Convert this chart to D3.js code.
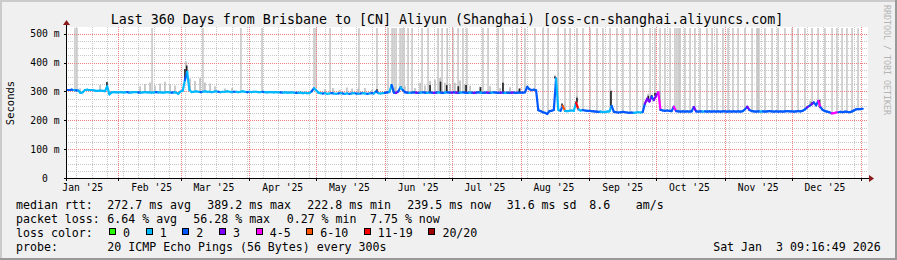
<!DOCTYPE html>
<html>
<head>
<meta charset="utf-8">
<script src="https://cdn.jsdelivr.net/npm/d3@7"></script>
<style>
html, body { margin: 0; padding: 0; background: #f0f0f0; }
svg { display: block; font-family: "DejaVu Sans Mono", monospace; }
text { white-space: pre; }
</style>
</head>
<body>
<svg id="chart" width="897" height="260" xml:space="preserve"></svg>
<script>
// ---- data ----
const title = "Last 360 Days from Brisbane to [CN] Aliyun (Shanghai) [oss-cn-shanghai.aliyuncs.com]";
const spanDays = 360;
const firstDay = 8; // day of year (Jan 1 2025 = 0) of the first median sample

// median rtt in ms, one value per day, one row per month
const medianMs = [
  // Jan
  305, 305, 306, 305, 304, 303, 295, 297, 305, 306, 305, 305, 304, 302, 302, 303, 302, 301, 318, 290, 297, 298, 297,
  // Feb
  297, 298, 297, 297, 298, 296, 297, 298, 298, 297, 296, 297, 298, 297, 297, 296, 297, 298, 297, 297, 296, 297, 298, 297, 296, 297, 296, 292,
  // Mar
  300, 302, 340, 368, 305, 298, 299, 300, 299, 298, 299, 300, 299, 299, 298, 299, 300, 299, 298, 299, 299, 300, 299, 298, 299, 299, 298, 299, 300, 299, 298,
  // Apr
  299, 298, 299, 299, 298, 298, 299, 298, 297, 298, 298, 297, 298, 297, 297, 296, 297, 296, 296, 297, 296, 295, 295, 296, 294, 295, 294, 294, 300, 311,
  // May
  304, 296, 294, 293, 294, 292, 293, 294, 293, 292, 293, 294, 293, 292, 293, 292, 293, 294, 293, 292, 293, 294, 293, 292, 293, 294, 293, 300, 294, 293, 294,
  // Jun
  295, 297, 298, 322, 296, 295, 300, 315, 305, 297, 296, 295, 296, 297, 296, 295, 296, 297, 296, 295, 297, 296, 295, 296, 297, 296, 295, 296, 297, 296,
  // Jul
  296, 297, 296, 295, 296, 297, 296, 295, 296, 296, 295, 296, 297, 296, 295, 296, 296, 295, 296, 297, 296, 295, 296, 296, 295, 296, 295, 296, 296, 295, 296,
  // Aug
  296, 296, 297, 316, 308, 305, 306, 304, 235, 232, 228, 226, 222, 232, 233, 236, 345, 236, 233, 250, 233, 232, 233, 234, 233, 262, 238, 234, 235, 234, 233,
  // Sep
  233, 232, 231, 230, 229, 230, 228, 229, 230, 231, 250, 229, 228, 227, 228, 229, 228, 227, 226, 227, 226, 227, 228, 227, 229, 258, 275, 265, 282, 270,
  // Oct
  285, 298, 236, 234, 233, 234, 233, 232, 247, 232, 231, 230, 231, 230, 231, 230, 231, 246, 231, 230, 231, 230, 231, 230, 231, 230, 231, 230, 231, 230, 231,
  // Nov
  231, 230, 231, 230, 231, 230, 231, 230, 232, 238, 247, 236, 232, 231, 230, 231, 230, 231, 230, 231, 232, 231, 230, 231, 230, 231, 230, 231, 232, 231,
  // Dec
  231, 230, 231, 232, 231, 233, 238, 245, 250, 255, 262, 252, 267, 245, 236, 232, 230, 228, 224, 225, 227, 228, 229, 228, 230, 229, 228, 230, 234, 238, 239,
  // Jan 26
  239, 240
];

// loss class per day (index into lossColors), one string per month
const lossByMonth = [
  "22212111111111111111111",
  "1111211112111111121111112111",
  "1121111112111111121111112111112",
  "111111211111112111111211111121",
  "1112111211212112112121121212111",
  "221223212221223212212232122122",
  "3232122212322122321222321223222",
  "2222222222222222112511111611222",
  "222221111122222222221111233323",
  "3422222242222222232221222222222",
  "222222222232222212222222222222",
  "2222222323224222224442222222222",
  "22"
];

// smoke spikes (day of year, top in ms)
const smokeDays = [13.8, 22.8, 40.8, 43, 45.3, 47.5, 49.8, 52, 54.3, 56.5, 61.5, 63.3, 65.5, 67.8, 70, 72.3, 74.5, 79, 82.2,
  124, 127.6, 130.8, 133.9, 136.2, 138.9, 142, 145.2,
  155.5, 160, 164.5, 166.8, 169, 171.3, 173.5, 175.8, 178, 180.3,
  182.5, 184.8, 187, 189.3, 193.8, 198.3, 202.8, 204.1, 207.3, 211.8,
  227.5, 237.4, 252.7, 269.4, 272.5, 274.8, 342.3, 346.8];
const smokeTop = [310, 322, 318, 326, 331, 320, 328, 334, 325, 321, 404, 345, 336, 347, 331, 328, 318, 310, 312,
  308, 312, 306, 314, 310, 309, 312, 307,
  315, 318, 312, 330, 321, 336, 341, 347, 330, 326,
  330, 338, 325, 320, 316, 318, 312, 332, 315, 312,
  356, 283, 306, 292, 300, 302, 268, 275];

// dark smoke (day of year, top in ms)
const darkDays = [25.9, 61, 61.8, 119.3, 147.4, 154.2, 158.2, 171.3, 176, 178.8, 184, 187.5, 194, 204.1, 211.5,
  227.5, 230.7, 237.4, 252.7, 268.5, 269.5, 271, 272.5, 274, 343, 346.5];
const darkTop = [333, 378, 390, 312, 308, 322, 317, 322, 334, 322, 318, 322, 315, 330, 310,
  352, 258, 278, 302, 275, 285, 288, 295, 299, 262, 270];

// days where some pings went off the top of the scale
const offscaleDays = [11.5, 12.4, 46.2, 69.1, 86.2, 95.7, 119.1, 120, 126.3, 139.3, 147.4,
  152.4, 154.2, 155.1, 156, 157.8, 158.7, 159.6, 161.4, 163.2, 167.7, 170.4, 174.9, 176.7, 179,
  181.6, 183.9, 186.1, 187.9, 195.1, 197.4, 201.9, 204.1, 210.4, 214, 218.5, 222.1, 224.4,
  228.9, 232, 234.3, 237.4, 240.1, 243.3, 246.4, 249.1, 252.3, 255.4, 258.1, 261.3, 264.4, 267.1,
  270.3, 272.5, 274.8, 277, 279.3, 281.5, 282.4, 283.3, 283.8, 286, 288.3, 290.5, 292.8, 295.9, 298.2,
  300.4, 303.1, 305.4, 307.6, 309.9, 313, 316.2, 318.4, 318.9, 319.3, 322, 325.2, 327.9, 331, 334.2,
  336.9, 340, 343.2, 345.9, 349, 352.2, 354.4, 356.7, 358.9, 361.2, 363.9];

const yTicks = [0, 100, 200, 300, 400, 500];
const rttLegend = ["median rtt:", "272.7 ms avg", "389.2 ms max", "222.8 ms min", "239.5 ms now", "31.6 ms sd", "8.6", "am/s"];
const lossLegend = ["packet loss:", "6.64 % avg", "56.28 % max", "0.27 % min", "7.75 % now"];
const lossLabels = ["0", "1", "2", "3", "4-5", "6-10", "11-19", "20/20"];
const lossColors = ["#26ff00", "#00b8ff", "#0059ff", "#7e00ff", "#ff00ff", "#ff5500", "#ff0000", "#a10000"];
const probeText = "20 ICMP Echo Pings (56 Bytes) every 300s";
const stamp = "Sat Jan  3 09:16:49 2026";

// ---- layout ----
const W = 897, H = 260;
const P = { left: 66, right: 866, top: 28, bottom: 178 };
const rttX = [16, 107.3, 207.3, 307.3, 407.3, 506.7, 589.3, 635.7];
const lossX = [16, 107.3, 193.3, 286.7, 370];
const lineY = [208.5, 222.5, 236.5, 250.5];
const cw = 6.97; // legend char width

const DAY = 864e5;
const yearStart = Date.UTC(2025, 0, 1);
const doy = d => new Date(yearStart + d * DAY);
const tEnd = new Date(Date.UTC(2026, 0, 3, 11, 17));
const tStart = new Date(+tEnd - spanDays * DAY);

const x = d3.scaleUtc().domain([tStart, tEnd]).range([P.left, P.right]);
const y = d3.scaleLinear().domain([0, 520]).range([P.bottom, P.top]);
const px = v => Math.round(v) + 0.5;

const lossClass = lossByMonth.join("").split("").map(Number);
const points = medianMs.map((v, i) => ({ day: firstDay + i, v, loss: lossClass[i] ?? 1 }));
const medianAt = d => medianMs[Math.max(0, Math.min(medianMs.length - 1, Math.round(d) - firstDay))];

const svg = d3.select("#chart");

// background + 3d border
svg.append("rect").attr("width", W).attr("height", H).attr("fill", "#f0f0f0");
svg.append("path").attr("d", `M0,${H} V0 H${W}`).attr("fill", "none").attr("stroke", "#cbcbcb").attr("stroke-width", 4);
svg.append("path").attr("d", `M0,${H} H${W} V0`).attr("fill", "none").attr("stroke", "#999999").attr("stroke-width", 4);

// canvas
svg.append("rect").attr("x", P.left).attr("y", P.top - 1).attr("width", P.right - P.left + 2)
  .attr("height", P.bottom - P.top + 1).attr("fill", "#ffffff");

// off-scale smoke lines
svg.append("g").selectAll("line").data(offscaleDays).join("line")
  .attr("x1", d => x(doy(d))).attr("x2", d => x(doy(d)))
  .attr("y1", y(520)).attr("y2", d => y(medianAt(d)))
  .attr("stroke", "#c4c4c4").attr("stroke-width", 1.5);

// grid
const grid = svg.append("g").attr("shape-rendering", "crispEdges").attr("stroke-width", 1).attr("stroke-dasharray", "1,1");
const minorY = d3.range(25, 520, 25).filter(v => v % 100);
const majorY = yTicks.filter(v => v > 0);
grid.selectAll(".gy").data(minorY).join("line")
  .attr("x1", P.left).attr("x2", P.right + 2).attr("y1", v => px(y(v))).attr("y2", v => px(y(v)))
  .attr("stroke", "#c8c8c8");
grid.selectAll(".gx").data(d3.utcMonday.range(tStart, tEnd)).join("line")
  .attr("x1", t => px(x(t))).attr("x2", t => px(x(t))).attr("y1", P.top - 1).attr("y2", P.bottom)
  .attr("stroke", "#c8c8c8");
grid.selectAll(".my").data(majorY).join("line")
  .attr("x1", P.left).attr("x2", P.right + 2).attr("y1", v => px(y(v))).attr("y2", v => px(y(v)))
  .attr("stroke", "#f08080");
grid.selectAll(".mx").data(d3.utcMonth.range(tStart, tEnd)).join("line")
  .attr("x1", t => px(x(t))).attr("x2", t => px(x(t))).attr("y1", P.top - 1).attr("y2", P.bottom)
  .attr("stroke", "#f08080");

// smoke
svg.append("g").selectAll("line").data(smokeDays).join("line")
  .attr("x1", (d) => x(doy(d))).attr("x2", (d) => x(doy(d)))
  .attr("y1", (d, i) => y(smokeTop[i])).attr("y2", d => y(medianAt(d)))
  .attr("stroke", "#b4b4b4").attr("stroke-width", 1.4);
svg.append("g").selectAll("line").data(darkDays).join("line")
  .attr("x1", (d) => x(doy(d))).attr("x2", (d) => x(doy(d)))
  .attr("y1", (d, i) => y(darkTop[i])).attr("y2", d => y(medianAt(d)))
  .attr("stroke", "#202020").attr("stroke-width", 1.6);

// median line coloured by loss
svg.append("g").selectAll("line").data(points.slice(0, -1)).join("line")
  .attr("x1", p => x(doy(p.day))).attr("y1", p => y(p.v))
  .attr("x2", (p, i) => x(doy(points[i + 1].day))).attr("y2", (p, i) => y(points[i + 1].v))
  .attr("stroke", p => lossColors[p.loss]).attr("stroke-width", 2.2).attr("stroke-linecap", "round");

// axes
const axes = svg.append("g").attr("shape-rendering", "crispEdges").attr("stroke", "#000");
axes.append("line").attr("x1", P.left - 2).attr("x2", P.right + 4).attr("y1", px(y(0))).attr("y2", px(y(0)));
axes.append("line").attr("x1", px(P.left)).attr("x2", px(P.left)).attr("y1", P.bottom + 3).attr("y2", P.top - 4);
axes.selectAll(".ty").data(yTicks).join("line")
  .attr("x1", P.left - 2).attr("x2", P.left).attr("y1", v => px(y(v))).attr("y2", v => px(y(v)));
axes.selectAll(".tx").data(d3.utcMonth.range(tStart, tEnd)).join("line")
  .attr("x1", t => px(x(t))).attr("x2", t => px(x(t))).attr("y1", P.bottom).attr("y2", P.bottom + 3);
svg.append("path").attr("d", `M${P.left - 3},${P.top - 3} L${P.left + 0.5},${P.top - 8} L${P.left + 4},${P.top - 3} Z`).attr("fill", "#8b1a1a");
svg.append("path").attr("d", `M${P.right + 3},${y(0) - 3} L${P.right + 8},${y(0) + 0.5} L${P.right + 3},${y(0) + 4} Z`).attr("fill", "#8b1a1a");

// tick labels
svg.append("g").selectAll("text").data(yTicks).join("text")
  .attr("x", 59.5).attr("y", v => y(v) + 3.5).attr("text-anchor", "end")
  .attr("font-size", 9.7).attr("fill", "#000")
  .text(v => v === 0 ? "0  " : v + " m");
const fmt = d3.utcFormat("%b '%y");
const labelTimes = d3.utcMonth.range(d3.utcMonth.floor(tStart), tEnd)
  .filter(m => d3.utcDay.offset(m, 15) >= tStart && d3.utcDay.offset(m, 15) <= tEnd);
svg.append("g").selectAll("text").data(labelTimes).join("text")
  .attr("x", m => x(d3.utcDay.offset(m, 15))).attr("y", 191).attr("text-anchor", "middle")
  .attr("font-size", 9.7).attr("fill", "#000").text(m => fmt(m));

// title, unit, watermark
svg.append("text").attr("x", 447).attr("y", 24).attr("text-anchor", "middle")
  .attr("font-size", 13.3).attr("fill", "#000").text(title);
svg.append("text").attr("transform", `translate(14,${(P.top + P.bottom) / 2}) rotate(-90)`)
  .attr("text-anchor", "middle").attr("font-size", 10.5).attr("fill", "#000").text("Seconds");
svg.append("text").attr("transform", "translate(884,60) rotate(90)")
  .attr("text-anchor", "middle").attr("font-size", 8.3).attr("fill", "#b4b4b4").text("RRDTOOL / TOBI OETIKER");

// legend
const leg = svg.append("g").attr("font-size", 11.6).attr("fill", "#000");
rttLegend.forEach((s, i) => leg.append("text").attr("x", rttX[i]).attr("y", lineY[0]).text(s));
lossLegend.forEach((s, i) => leg.append("text").attr("x", lossX[i]).attr("y", lineY[1]).text(s));
leg.append("text").attr("x", 16).attr("y", lineY[2]).text("loss color:");
let lx = 109;
lossLabels.forEach((s, i) => {
  leg.append("rect").attr("x", lx + 0.5).attr("y", lineY[2] - 8.5).attr("width", 6).attr("height", 6)
    .attr("fill", lossColors[i]).attr("stroke", "#000").attr("stroke-width", 1).attr("shape-rendering", "crispEdges");
  leg.append("text").attr("x", lx + 14).attr("y", lineY[2]).text(s);
  lx += s.length * cw + 29.7;
});
leg.append("text").attr("x", 16).attr("y", lineY[3]).text("probe:");
leg.append("text").attr("x", 107.3).attr("y", lineY[3]).text(probeText);
leg.append("text").attr("x", 880.7).attr("y", lineY[3]).attr("text-anchor", "end").text(stamp);
</script>
</body>
</html>
